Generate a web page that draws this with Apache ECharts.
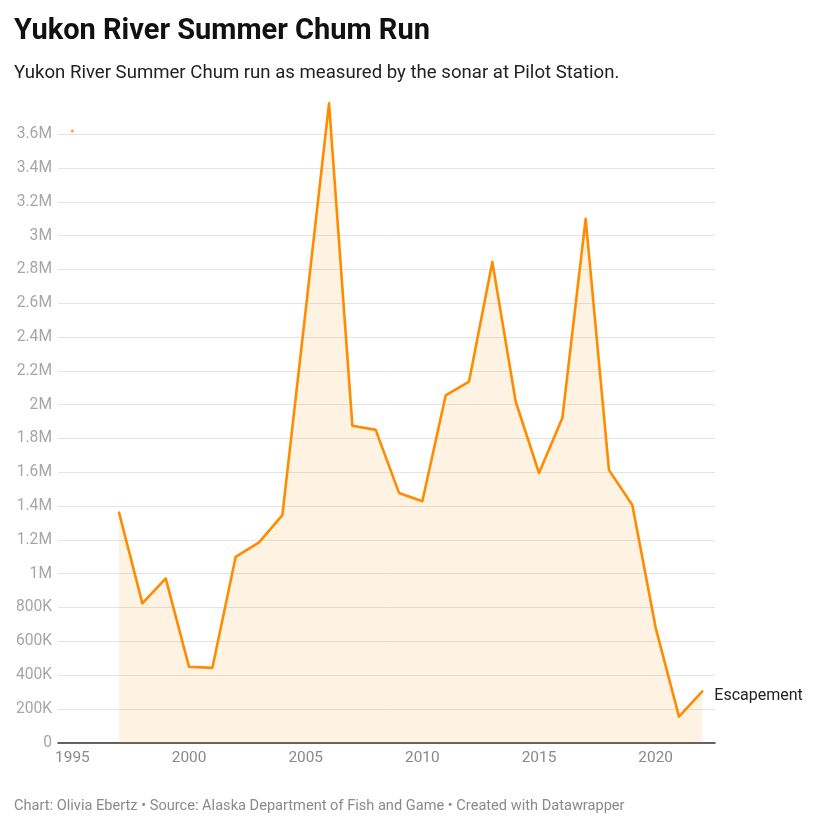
<!DOCTYPE html>
<html>
<head>
<meta charset="utf-8">
<script src="https://cdn.jsdelivr.net/npm/echarts@6/dist/echarts.min.js"></script>
<style>
  html, body { margin: 0; padding: 0; background: #ffffff; }
  #chart { width: 830px; height: 827px; }
</style>
</head>
<body>
<div id="chart"></div>
<script>
// ---- Data ----
const years = [1997, 1998, 1999, 2000, 2001, 2002, 2003, 2004, 2005, 2006, 2007, 2008, 2009,
               2010, 2011, 2012, 2013, 2014, 2015, 2016, 2017, 2018, 2019, 2020, 2021, 2022];
const escapement = [1361000, 824000, 972000, 449000, 443000, 1100000, 1185000, 1347000, 2560000,
                    3783000, 1876000, 1851000, 1478000, 1429000, 2055000, 2137000, 2845000,
                    2019000, 1596000, 1921000, 3100000, 1613000, 1406000, 681000, 154000, 304000];
const strayPoint = [[1995, 3620000]];
const xTickYears = [1995, 2000, 2005, 2010, 2015, 2020];
const seriesName = 'Escapement';
const titleText = 'Yukon River Summer Chum Run';
const subtitleText = 'Yukon River Summer Chum run as measured by the sonar at Pilot Station.';
const footerText = 'Chart: Olivia Ebertz \u2022 Source: Alaska Department of Fish and Game \u2022 Created with Datawrapper';

function fmtY(v) {
  if (v === 0) return '0';
  if (v >= 1000000) return (Math.round(v / 100000) / 10) + 'M';
  return Math.round(v / 1000) + 'K';
}

const chart = echarts.init(document.getElementById('chart'), null, { renderer: 'canvas' });
const option = {
  backgroundColor: '#ffffff',
  animation: false,
  textStyle: { fontFamily: 'Roboto' },
  title: [
    { text: titleText, left: 9, top: 12,
      textStyle: { fontFamily: 'Roboto', fontSize: 29, fontWeight: 'bold', color: '#111111' } },
    { text: subtitleText, left: 9, top: 59,
      textStyle: { fontFamily: 'Roboto', fontSize: 18.6, fontWeight: 'normal', color: '#222222' } },
    { text: footerText, left: 9, top: 794,
      textStyle: { fontFamily: 'Roboto', fontSize: 14.6, fontWeight: 'normal', color: '#8a8a8a' } }
  ],
  grid: { left: 58, right: 115, top: 134.3, bottom: 84.3, containLabel: false },
  xAxis: {
    type: 'value',
    min: 1994.383,
    max: 2022.544,
    axisLine: { show: true, onZero: false, lineStyle: { color: '#333333', width: 1.5 } },
    axisTick: { show: false },
    splitLine: { show: false },
    axisLabel: {
      customValues: xTickYears,
      color: '#8a8a8a', fontSize: 15.4, fontFamily: 'Roboto', margin: 8,
      formatter: v => String(v)
    }
  },
  yAxis: {
    type: 'value',
    min: 0,
    max: 3600000,
    interval: 200000,
    axisLine: { show: false },
    axisTick: { show: false },
    splitLine: { show: true, lineStyle: { color: '#e4e4e4', width: 1 } },
    axisLabel: {
      color: '#a6a6a6', fontSize: 15.6, fontFamily: 'Roboto', margin: 6,
      formatter: v => fmtY(v)
    }
  },
  series: [
    {
      name: seriesName,
      type: 'line',
      clip: false,
      data: years.map((y, i) => [y, escapement[i]]),
      showSymbol: false,
      symbol: 'none',
      lineStyle: { color: '#ff8c00', width: 2.6, join: 'round', cap: 'round' },
      areaStyle: { color: 'rgba(250,170,50,0.2)', origin: 'start' },
      endLabel: {
        show: true,
        formatter: seriesName,
        color: '#222222',
        fontSize: 16,
        fontFamily: 'Roboto',
        distance: 12,
        offset: [0, 5]
      },
      z: 3
    },
    {
      type: 'scatter',
      data: strayPoint,
      symbolSize: 3,
      itemStyle: { color: '#ff8c00' },
      clip: false,
      z: 4
    }
  ]
};
chart.setOption(option);
</script>
</body>
</html>
